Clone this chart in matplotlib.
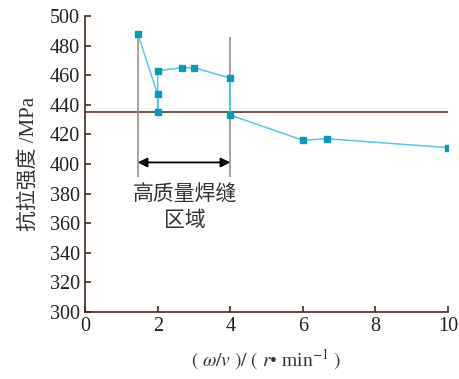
import matplotlib.pyplot as plt

plt.rcParams['font.family'] = ['Liberation Serif', 'Noto Sans CJK SC']
plt.rcParams['mathtext.fontset'] = 'stix'

# data
x = [1.45, 2.0, 2.0, 2.0, 2.67, 3.0, 4.0, 4.0, 6.0, 6.67, 10.0]
y = [488, 447, 435, 463, 465, 465, 458, 433, 416, 417, 411]
ref_level = 435
region = [1.45, 4.0]
xticks = [0, 2, 4, 6, 8, 10]
yticks = list(range(300, 501, 20))

spine_c = '#4a2a22'
fig = plt.figure(figsize=(4.6, 3.79), dpi=100)
ax = fig.add_axes([0.185, 0.177, 0.789, 0.781])

ax.axhline(ref_level, color='#5a3a30', lw=1.2, zorder=1)
ax.vlines(region[0], 391, 488, color='#a08c80', lw=1.2, zorder=1)
ax.vlines(region[1], 391, 486, color='#a08c80', lw=1.2, zorder=1)
ax.plot(x, y, color='#5cc8e0', lw=1.1, marker='s', ms=4.5,
        mfc='#0a9ab8', mec='#0a9ab8', zorder=3)

ax.annotate('', xy=(region[0], 401), xytext=(region[1], 401),
            arrowprops=dict(arrowstyle='<|-|>', color='black', lw=1.3,
                            mutation_scale=14, shrinkA=0, shrinkB=0))
ax.text(2.75, 379, '高质量焊缝', ha='center', va='center', fontsize=15,
        family=['Noto Sans CJK SC'], color='#333333')
ax.text(2.75, 362, '区域', ha='center', va='center', fontsize=15,
        family=['Noto Sans CJK SC'], color='#333333')

ax.set_xlim(0, 10)
ax.set_ylim(300, 500)
ax.set_xticks(xticks)
ax.set_yticks(yticks)
for s in ['top', 'right']:
    ax.spines[s].set_visible(False)
for s in ['left', 'bottom']:
    ax.spines[s].set_color(spine_c)
    ax.spines[s].set_linewidth(1.2)
ax.tick_params(direction='in', length=4, width=1.2, color=spine_c,
               labelsize=14.5, labelcolor='#222222')
ax.set_ylabel('抗拉强度 /MPa', fontsize=15, color='#333333', labelpad=8)
ax.set_xlabel(r'$(\ \omega/v\ )/\ (\ r$• min$^{-1}\ )$', fontsize=14,
              color='#333333', labelpad=8)

plt.savefig('out.png', dpi=100)
plt.close()
